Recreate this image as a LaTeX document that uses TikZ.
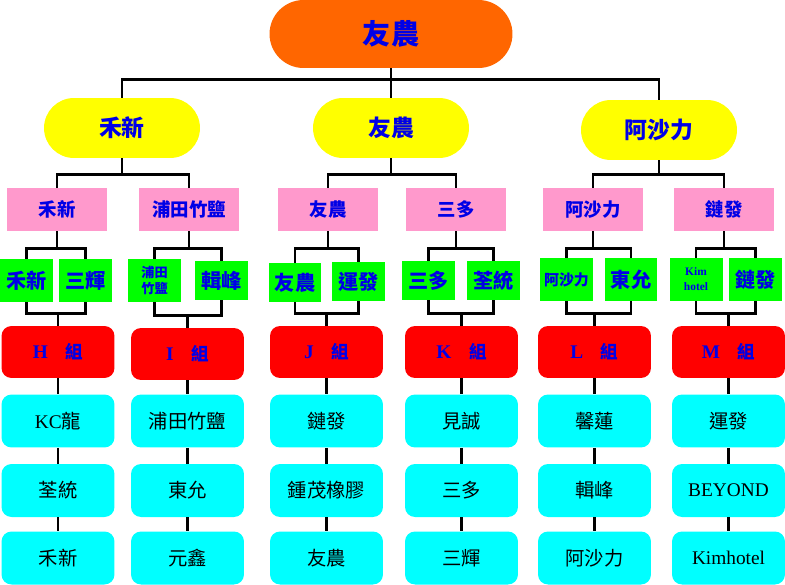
\documentclass[tikz,border=0pt]{standalone}
\usepackage{fontspec}
\setmainfont{Liberation Serif}
\newfontfamily\cjk{Noto Sans CJK TC}
\definecolor{topcol}{RGB}{255,102,0}
\definecolor{yelcol}{RGB}{255,255,0}
\definecolor{pinkcol}{RGB}{255,153,204}
\definecolor{grncol}{RGB}{0,255,0}
\definecolor{redcol}{RGB}{255,0,0}
\definecolor{cyancol}{RGB}{0,255,255}
\definecolor{txtblue}{RGB}{0,0,230}
\begin{document}
\begin{tikzpicture}[x=0.02cm,y=-0.02cm]\tikzstyle{every node}=[font=\cjk, inner sep=0pt, align=center]
\tikzstyle{line}=[line width=1.7pt]
\tikzstyle{topbox}=[fill=topcol, rounded corners=0.68cm, minimum width=4.86cm, minimum height=1.36cm, text=txtblue, font=\cjk\bfseries\fontsize{16}{18}\selectfont]
\tikzstyle{yelbox}=[fill=yelcol, rounded corners=0.6cm, minimum width=3.12cm, minimum height=1.2cm, text=txtblue, font=\cjk\bfseries\fontsize{13}{15}\selectfont]
\tikzstyle{pinkbox}=[fill=pinkcol, minimum width=2cm, minimum height=0.86cm, text=txtblue, font=\cjk\bfseries\fontsize{10.5}{12}\selectfont]
\tikzstyle{grnbox}=[fill=grncol, minimum width=1.06cm, minimum height=0.86cm, text=txtblue, font=\cjk\bfseries\fontsize{11.5}{13}\selectfont]
\tikzstyle{grnsmall}=[grnbox, font=\cjk\bfseries\fontsize{7.5}{9}\selectfont]
\tikzstyle{redbox}=[fill=redcol, rounded corners=0.2cm, minimum width=2.26cm, minimum height=1.04cm, text=txtblue, font=\cjk\bfseries\fontsize{10}{12}\selectfont]
\tikzstyle{cyanbox}=[fill=cyancol, rounded corners=0.2cm, minimum width=2.26cm, minimum height=1.06cm, text=black, font=\cjk\fontsize{11}{13}\selectfont]
\useasboundingbox (0,0) rectangle (785,585);
% top
  \node[topbox] (top) at (391,34) {友農};
% yellow
  \node[yelbox] (hx) at (122,128) {禾新};
  \node[yelbox] (yn) at (391,128) {友農};
  \node[yelbox] (as) at (659,130) {阿沙力};
% pink
  \node[pinkbox] (phx) at (57,209.5) {禾新};
  \node[pinkbox] (ppt) at (189,209.5) {浦田竹鹽};
  \node[pinkbox] (pyn) at (328,209.5) {友農};
  \node[pinkbox] (psd) at (456,209.5) {三多};
  \node[pinkbox] (pas) at (593,209.5) {阿沙力};
  \node[pinkbox] (plf) at (724,209.5) {鏈發};
% green
  \node[grnbox] (ghx1) at (26.5,280.5) {禾新};
  \node[grnbox] (ghx2) at (85.5,280.5) {三輝};
  \node[grnsmall] (gpt1) at (154.5,280.5) {浦田\\竹鹽};
  \node[grnbox, minimum height=0.78cm] (gpt2) at (221.5,280.5) {輯峰};
  \node[grnbox, minimum height=0.78cm] (gyn1) at (295,282.5) {友農};
  \node[grnbox, minimum height=0.78cm] (gyn2) at (358.5,281.5) {運發};
  \node[grnbox, minimum height=0.78cm] (gsd1) at (428.5,280.5) {三多};
  \node[grnbox, minimum height=0.78cm] (gsd2) at (493.5,280.5) {荃統};
  \node[grnsmall, font=\cjk\bfseries\fontsize{8.5}{10}\selectfont] (gas1) at (566.5,279.5) {阿沙力};
  \node[grnbox] (gas2) at (631,279.5) {東允};
  \node[grnsmall, font=\rmfamily\bfseries\fontsize{6.5}{8.5}\selectfont] (glf1) at (696,279.5) {Kim\\hotel};
  \node[grnbox] (glf2) at (755.5,279.5) {鏈發};
% red
  \node[redbox] (gH) at (58,352) {{\rmfamily\fontsize{11}{12}\selectfont H}\quad 組};
  \node[redbox] (gI) at (187.5,354) {{\rmfamily\fontsize{11}{12}\selectfont I}\quad 組};
  \node[redbox] (gJ) at (326.5,352) {{\rmfamily\fontsize{11}{12}\selectfont J}\quad 組};
  \node[redbox] (gK) at (461.5,352) {{\rmfamily\fontsize{11}{12}\selectfont K}\quad 組};
  \node[redbox] (gL) at (594.5,352) {{\rmfamily\fontsize{11}{12}\selectfont L}\quad 組};
  \node[redbox] (gM) at (728.5,352) {{\rmfamily\fontsize{11}{12}\selectfont M}\quad 組};
% cyan
  \node[cyanbox] (H1) at (58,421) {{\rmfamily KC}龍};
  \node[cyanbox] (H2) at (58,490.5) {荃統};
  \node[cyanbox] (H3) at (58,558) {禾新};
  \node[cyanbox] (I1) at (187.5,421) {浦田竹鹽};
  \node[cyanbox] (I2) at (187.5,490.5) {東允};
  \node[cyanbox] (I3) at (187.5,558) {元鑫};
  \node[cyanbox] (J1) at (326.5,421) {鏈發};
  \node[cyanbox] (J2) at (326.5,490.5) {鍾茂橡膠};
  \node[cyanbox] (J3) at (326.5,558) {友農};
  \node[cyanbox] (K1) at (461.5,421) {見誠};
  \node[cyanbox] (K2) at (461.5,490.5) {三多};
  \node[cyanbox] (K3) at (461.5,558) {三輝};
  \node[cyanbox] (L1) at (594.5,421) {馨蓮};
  \node[cyanbox] (L2) at (594.5,490.5) {輯峰};
  \node[cyanbox] (L3) at (594.5,558) {阿沙力};
  \node[cyanbox] (M1) at (728.5,421) {運發};
  \node[cyanbox] (M2) at (728.5,490.5) {{\rmfamily BEYOND}};
  \node[cyanbox] (M3) at (728.5,558) {{\rmfamily Kimhotel}};
%%%%%%%%%%%%%%%%
\draw[line] (top.south) -- ++(0,11) -| (hx.north);
\draw[line] (top.south) -- (yn.north);
\draw[line] (top.south) -- ++(0,11) -| (as.north);
\draw[line] (hx.south) |- ([yshift=0.26cm]phx.north) -- (phx.north);
\draw[line] (hx.south) |- ([yshift=0.26cm]ppt.north) -- (ppt.north);
\draw[line] (yn.south) |- ([yshift=0.26cm]pyn.north) -- (pyn.north);
\draw[line] (yn.south) |- ([yshift=0.26cm]psd.north) -- (psd.north);
\draw[line] (as.south) |- ([yshift=0.26cm]pas.north) -- (pas.north);
\draw[line] (as.south) |- ([yshift=0.26cm]plf.north) -- (plf.north);
%%%%%%%%%%%%%%%%
\draw[line] (phx.south) -- ++(0,17) -| (ghx1.north);
\draw[line] (phx.south) -- ++(0,17) -| (ghx2.north);
\draw[line] (ppt.south) -- ++(0,17) -| (gpt1.north);
\draw[line] (ppt.south) -- ++(0,17) -| (gpt2.north);
\draw[line] (pyn.south) -- ++(0,17) -| (gyn1.north);
\draw[line] (pyn.south) -- ++(0,17) -| (gyn2.north);
\draw[line] (psd.south) -- ++(0,17) -| (gsd1.north);
\draw[line] (psd.south) -- ++(0,17) -| (gsd2.north);
\draw[line] (pas.south) -- ++(0,17) -| (gas1.north);
\draw[line] (pas.south) -- ++(0,17) -| (gas2.north);
\draw[line] (plf.south) -- ++(0,17) -| (glf1.north);
\draw[line] (plf.south) -- ++(0,17) -| (glf2.north);
%%%%%%%%%%%%%%%%
\draw[line] (ghx1.south) |- ([yshift=0.24cm]gH.north) -- (gH.north);
\draw[line] (ghx2.south) |- ([yshift=0.24cm]gH.north);
\draw[line] (gpt1.south) |- ([yshift=0.24cm]gI.north) -- (gI.north);
\draw[line] (gpt2.south) |- ([yshift=0.24cm]gI.north);
\draw[line] (gyn1.south) |- ([yshift=0.24cm]gJ.north) -- (gJ.north);
\draw[line] (gyn2.south) |- ([yshift=0.24cm]gJ.north);
\draw[line] (gsd1.south) |- ([yshift=0.24cm]gK.north) -- (gK.north);
\draw[line] (gsd2.south) |- ([yshift=0.24cm]gK.north);
\draw[line] (gas1.south) |- ([yshift=0.24cm]gL.north) -- (gL.north);
\draw[line] (gas2.south) |- ([yshift=0.24cm]gL.north);
\draw[line] (glf1.south) |- ([yshift=0.24cm]gM.north) -- (gM.north);
\draw[line] (glf2.south) |- ([yshift=0.24cm]gM.north);
%%%%%%%%%%%%%%%%
\draw[line] (gH.south) -- (H1.north) (H1.south) -- (H2.north) (H2.south) -- (H3.north);
\draw[line] (gI.south) -- (I1.north) (I1.south) -- (I2.north) (I2.south) -- (I3.north);
\draw[line] (gJ.south) -- (J1.north) (J1.south) -- (J2.north) (J2.south) -- (J3.north);
\draw[line] (gK.south) -- (K1.north) (K1.south) -- (K2.north) (K2.south) -- (K3.north);
\draw[line] (gL.south) -- (L1.north) (L1.south) -- (L2.north) (L2.south) -- (L3.north);
\draw[line] (gM.south) -- (M1.north) (M1.south) -- (M2.north) (M2.south) -- (M3.north);
\end{tikzpicture}
\end{document}
